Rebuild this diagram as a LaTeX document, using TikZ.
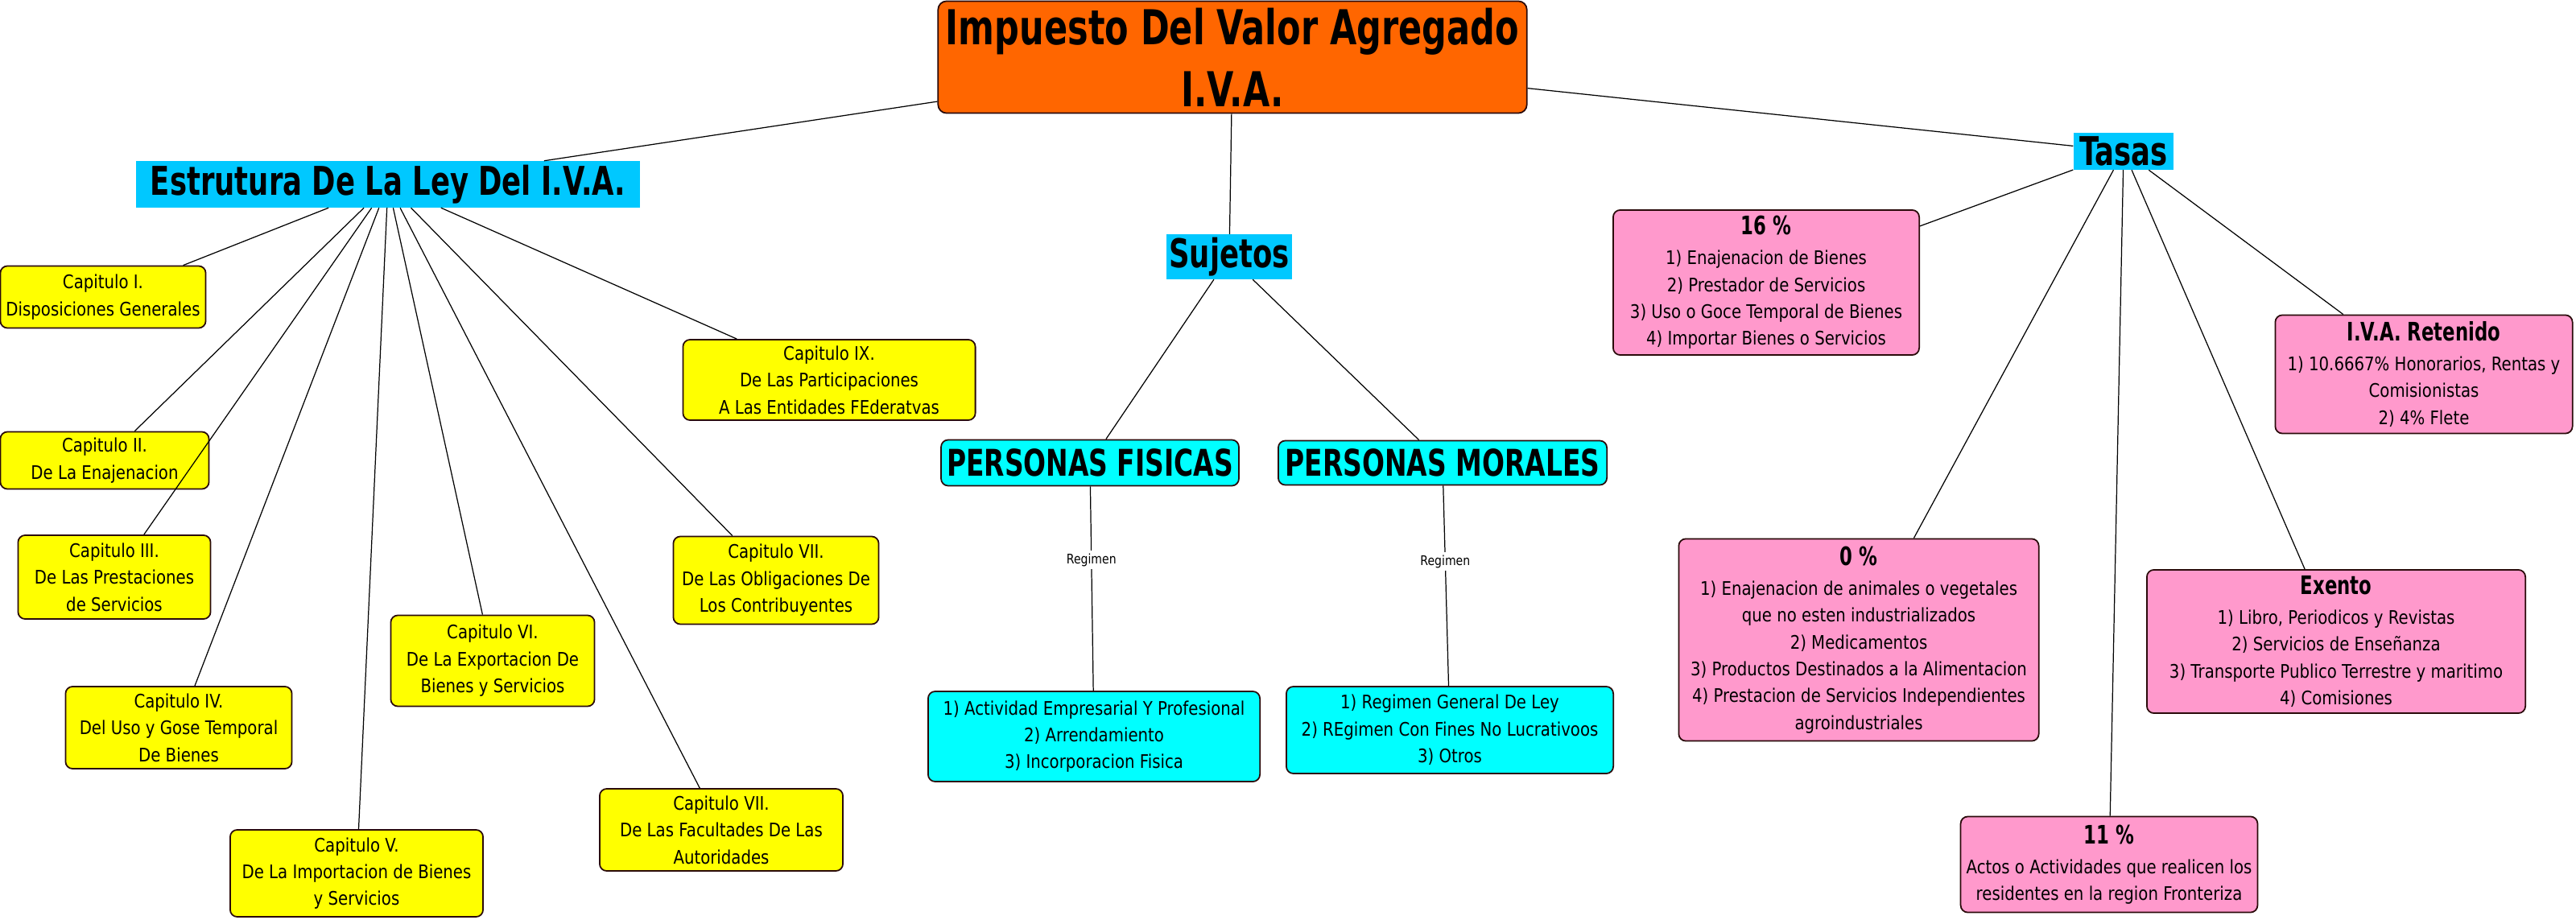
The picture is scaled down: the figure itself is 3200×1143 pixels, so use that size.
\documentclass[tikz,border=0pt]{standalone}
\usepackage{fontspec}
\setmainfont{DejaVu Sans}[FakeStretch=0.85]
\newfontfamily\hfont{DejaVu Sans}[FakeStretch=0.72]
\usepackage{xcolor}
\definecolor{ivaorange}{HTML}{FF6600}
\definecolor{ivasky}{HTML}{00C8FF}
\definecolor{ivacyan}{HTML}{00FFFF}
\definecolor{ivayellow}{HTML}{FFFF00}
\definecolor{ivapink}{HTML}{FF99CC}
\definecolor{ivaedge}{HTML}{2A0A0A}

\begin{document}
\begin{tikzpicture}[
    x=0.01cm, y=-0.01cm,
    every node/.style={font=\fontsize{6.6}{9.5}\selectfont, inner sep=2pt},
    rootbox/.style={rectangle, draw=ivaedge, fill=ivaorange, rounded corners=3pt,
                 line width=0.5pt, align=center,
                 font=\hfont\bfseries\fontsize{17}{22}\selectfont},
    headbox/.style={rectangle, fill=ivasky, inner sep=1pt,
                 font=\hfont\bfseries\fontsize{14}{16}\selectfont},
    persbox/.style={rectangle, draw=ivaedge, fill=ivacyan, rounded corners=2.5pt,
                 line width=0.5pt, font=\hfont\bfseries\fontsize{13}{15}\selectfont},
    regbox/.style={rectangle, draw=ivaedge, fill=ivacyan, rounded corners=2.5pt,
                 line width=0.5pt, align=center},
    capbox/.style={rectangle, draw=ivaedge, fill=ivayellow, rounded corners=2.5pt,
                line width=0.5pt, align=center},
    tasabox/.style={rectangle, draw=ivaedge, fill=ivapink, rounded corners=2.5pt,
                 line width=0.5pt, align=center},
    lnk/.style={line width=0.35pt},
    lbl/.style={fill=white, inner sep=1pt, font=\fontsize{4.7}{5.5}\selectfont}
]
    \path[use as bounding box, fill=white] (0,0) rectangle (3200,1143);

    % centro
    \node[rootbox, minimum width=7.31cm, minimum height=1.39cm] (root) at (1531,71)
        {Impuesto  Del  Valor  Agregado\\I.V.A.};

    % estructura de la ley
    \node[headbox, minimum width=6.25cm, minimum height=0.57cm] (estr) at (482,229)
        {Estrutura De La Ley Del I.V.A.};
    \node[capbox, minimum width=2.55cm, minimum height=0.77cm] (cap1) at (128,369)
        {Capitulo I.\\Disposiciones Generales};
    \node[capbox, minimum width=2.59cm, minimum height=0.71cm] (cap2) at (130,572)
        {Capitulo II.\\De La Enajenacion};
    \node[capbox, minimum width=2.39cm, minimum height=1.04cm] (cap3) at (142,717)
        {Capitulo III.\\De Las Prestaciones\\de Servicios};
    \node[capbox, minimum width=2.81cm, minimum height=1.02cm] (cap4) at (222,904)
        {Capitulo IV.\\Del Uso y Gose Temporal\\De Bienes};
    \node[capbox, minimum width=3.14cm, minimum height=1.08cm] (cap5) at (443,1085)
        {Capitulo V.\\De La Importacion de Bienes\\y Servicios};
    \node[capbox, minimum width=2.53cm, minimum height=1.13cm] (cap6) at (612,821)
        {Capitulo VI.\\De La Exportacion De\\Bienes y Servicios};
    \node[capbox, minimum width=2.55cm, minimum height=1.09cm] (cap7) at (964,721)
        {Capitulo VII.\\De Las Obligaciones De\\Los Contribuyentes};
    \node[capbox, minimum width=3.02cm, minimum height=1.02cm] (cap8) at (896,1031)
        {Capitulo VII.\\De Las Facultades De Las\\Autoridades};
    \node[capbox, minimum width=3.63cm, minimum height=1.00cm] (cap9) at (1030,472)
        {Capitulo IX.\\De Las Participaciones\\A Las Entidades FEderatvas};

    % sujetos
    \node[headbox, minimum width=1.41cm, minimum height=0.55cm] (suj) at (1527,319) {Sujetos};
    \node[persbox, minimum width=3.62cm, minimum height=0.57cm] (fis) at (1354,575) {PERSONAS FISICAS};
    \node[persbox, minimum width=4.08cm, minimum height=0.55cm] (mor) at (1792,575) {PERSONAS MORALES};
    \node[regbox, minimum width=4.12cm, minimum height=1.12cm] (fislist) at (1359,915)
        {1) Actividad Empresarial Y Profesional\\2) Arrendamiento\\3) Incorporacion Fisica};
    \node[regbox, minimum width=4.06cm, minimum height=1.08cm] (morlist) at (1801,907)
        {1) Regimen General De Ley\\2) REgimen Con Fines No Lucrativoos\\3) Otros};

    % tasas
    \node[headbox, minimum width=1.24cm, minimum height=0.45cm] (tasas) at (2638,188) {Tasas};
    \node[tasabox, minimum width=3.80cm, minimum height=1.80cm] (t16) at (2194,351)
        {{\hfont\bfseries\fontsize{9}{11}\selectfont 16 \%}\\[1pt]
         1) Enajenacion de Bienes\\2) Prestador de Servicios\\
         3) Uso o Goce Temporal de Bienes\\4) Importar Bienes o Servicios};
    \node[tasabox, minimum width=3.69cm, minimum height=1.47cm] (tret) at (3011,465)
        {{\hfont\bfseries\fontsize{9}{11}\selectfont I.V.A. Retenido}\\[1pt]
         1) 10.6667\% Honorarios, Rentas y\\Comisionistas\\2) 4\% Flete};
    \node[tasabox, minimum width=4.47cm, minimum height=2.51cm] (t0) at (2309,795)
        {{\hfont\bfseries\fontsize{9}{11}\selectfont 0 \%}\\[1pt]
         1) Enajenacion de animales o vegetales\\que no esten industrializados\\
         2) Medicamentos\\3) Productos Destinados a la Alimentacion\\
         4) Prestacion de Servicios Independientes\\agroindustriales};
    \node[tasabox, minimum width=4.70cm, minimum height=1.78cm] (texe) at (2902,797)
        {{\hfont\bfseries\fontsize{9}{11}\selectfont Exento}\\[1pt]
         1) Libro, Periodicos y Revistas\\2) Servicios de Enseñanza\\
         3) Transporte Publico Terrestre y maritimo\\4) Comisiones};
    \node[tasabox, minimum width=3.41cm, minimum height=1.19cm] (t11) at (2620,1074)
        {{\hfont\bfseries\fontsize{9}{11}\selectfont 11 \%}\\[1pt]
         Actos o Actividades que realicen los\\residentes en la region Fronteriza};

    \draw[lnk] (root) -- (estr);
    \draw[lnk] (root) -- (suj);
    \draw[lnk] (root) -- (tasas);

    \draw[lnk] (estr) -- (cap1);
    \draw[lnk] (estr) -- (cap2);
    \draw[lnk] (estr) -- (cap3);
    \draw[lnk] (estr) -- (cap4);
    \draw[lnk] (estr) -- (cap5);
    \draw[lnk] (estr) -- (cap6);
    \draw[lnk] (estr) -- (cap7);
    \draw[lnk] (estr) -- (cap8);
    \draw[lnk] (estr) -- (cap9);

    \draw[lnk] (suj) -- (fis);
    \draw[lnk] (suj) -- (mor);
    \draw[lnk] (fis) -- node[lbl, pos=0.36]{Regimen} (fislist);
    \draw[lnk] (mor) -- node[lbl, pos=0.38]{Regimen} (morlist);

    \draw[lnk] (tasas) -- (t16);
    \draw[lnk] (tasas) -- (tret);
    \draw[lnk] (tasas) -- (t0);
    \draw[lnk] (tasas) -- (texe);
    \draw[lnk] (tasas) -- (t11);
\end{tikzpicture}
\end{document}
